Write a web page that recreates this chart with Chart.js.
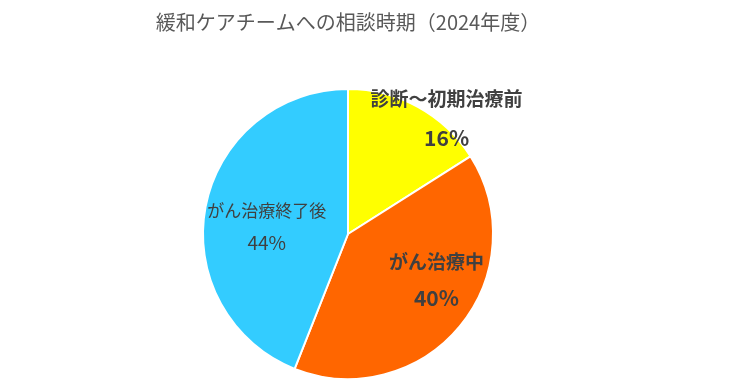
<!DOCTYPE html>
<html>
<head>
<meta charset="utf-8">
<script src="https://cdn.jsdelivr.net/npm/chart.js@4"></script>
<style>
  html, body { margin: 0; padding: 0; background: #fff; }
  #wrap { width: 746px; height: 392px; }
</style>
</head>
<body>
<div id="wrap"><canvas id="pieChart"></canvas></div>
<script>
// ========== data ==========
const categories = ['診断～初期治療前', 'がん治療中', 'がん治療終了後'];
const shares = [16, 40, 44];
const sliceColors = ['#FFFF00', '#FF6600', '#33CCFF'];
const chartTitle = '緩和ケアチームへの相談時期（2024年度）';

// label placement, as fractions of the radius from the pie centre
const labelSpots = [
  { dx: 0.68, dy: -0.93, dy2: -0.66, bold: true, size: 19 },
  { dx: 0.61, dy: 0.19, dy2: 0.44, bold: true, size: 19 },
  { dx: -0.56, dy: -0.16, dy2: 0.06, bold: false, size: 17 }
];

const FONT = '"Noto Sans CJK JP", "Noto Sans", sans-serif';

// ========== label plugin ==========
const sliceLabels = {
  id: 'sliceLabels',
  afterDatasetsDraw(chart) {
    const ctx = chart.ctx;
    const arcs = chart.getDatasetMeta(0).data;
    ctx.save();
    ctx.fillStyle = '#404040';
    ctx.textAlign = 'center';
    ctx.textBaseline = 'middle';
    arcs.forEach((arc, i) => {
      const s = labelSpots[i];
      const r = arc.outerRadius;
      ctx.font = (s.bold ? 'bold ' : '') + s.size + 'px ' + FONT;
      ctx.fillText(categories[i], arc.x + s.dx * r, arc.y + s.dy * r);
      ctx.font = (s.bold ? 'bold ' : '') + (s.size + 2) + 'px ' + FONT;
      ctx.fillText(shares[i] + '%', arc.x + s.dx * r, arc.y + s.dy2 * r);
    });
    ctx.restore();
  }
};

// ========== chart ==========
const ctx = document.getElementById('pieChart').getContext('2d');
const pieChart = new Chart(ctx, {
  type: 'pie',
  data: {
    labels: categories,
    datasets: [{
      data: shares,
      backgroundColor: sliceColors,
      borderColor: '#FFFFFF',
      borderWidth: 2
    }]
  },
  options: {
    responsive: true,
    maintainAspectRatio: false,
    animation: false,
    layout: { padding: { left: 0, right: 50, top: 0, bottom: 12 } },
    plugins: {
      legend: { display: false },
      tooltip: { enabled: false },
      title: {
        display: true,
        text: chartTitle,
        color: '#595959',
        font: { family: FONT, size: 20, weight: 'normal' },
        padding: { top: 10, bottom: 54 }
      }
    }
  },
  plugins: [sliceLabels]
});
</script>
</body>
</html>
